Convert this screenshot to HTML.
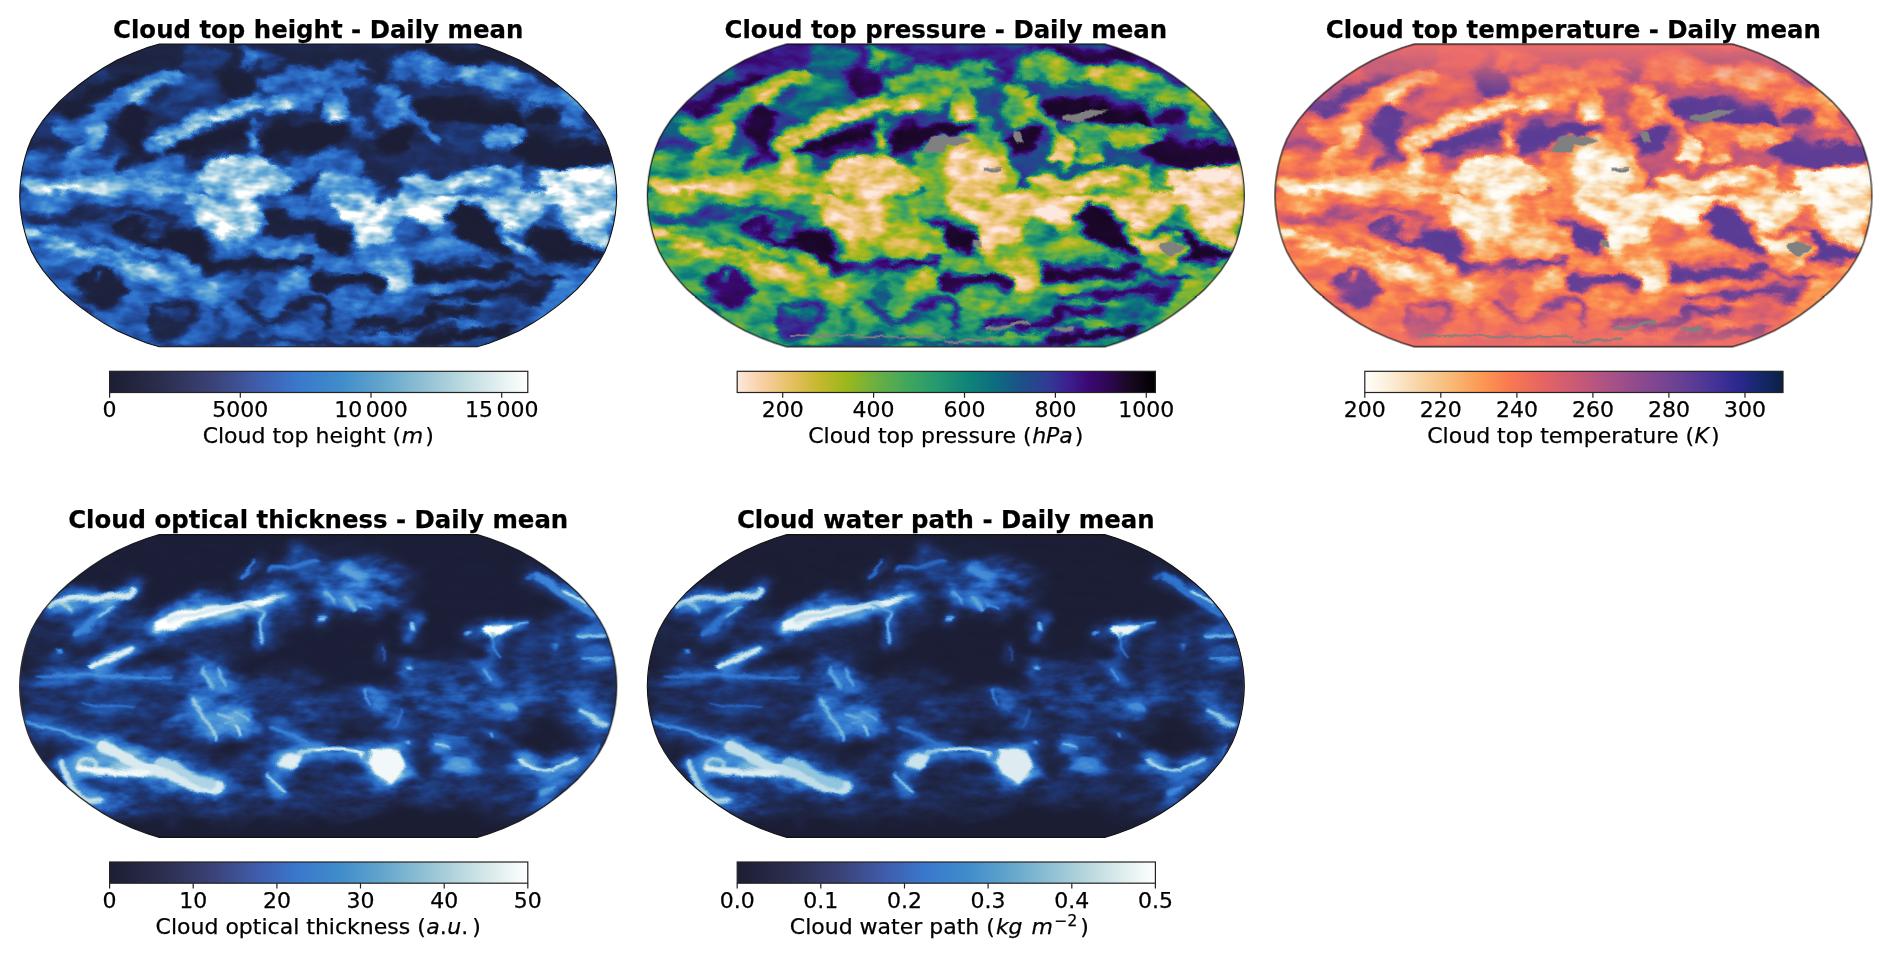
<!DOCTYPE html><html><head><meta charset="utf-8"><title>Cloud properties - Daily mean</title><style>html,body{margin:0;padding:0;background:#fff}svg{display:block}text{font-family:"DejaVu Sans","Liberation Sans",sans-serif;fill:#000;stroke:#000;stroke-width:.25px}</style></head><body>
<svg width="1892" height="958" viewBox="0 0 1892 958">
<defs>
<clipPath id="rob"><path d="M158.9 -151.4 L170.8 -147.8 L185.5 -142.2 L201.0 -135.3 L214.5 -127.7 L226.8 -119.7 L238.4 -111.2 L249.2 -102.5 L259.1 -93.5 L267.5 -84.3 L275.1 -75.1 L281.4 -65.7 L286.6 -56.3 L290.4 -46.9 L293.2 -37.5 L295.5 -28.2 L297.1 -18.8 L298.1 -9.4 L298.5 -0.0 L298.1 9.4 L297.1 18.8 L295.5 28.2 L293.2 37.5 L290.4 46.9 L286.6 56.3 L281.4 65.7 L275.1 75.1 L267.5 84.3 L259.1 93.5 L249.2 102.5 L238.4 111.2 L226.8 119.7 L214.5 127.7 L201.0 135.3 L185.5 142.2 L170.8 147.8 L158.9 151.4 L-158.9 151.4 L-170.8 147.8 L-185.5 142.2 L-201.0 135.3 L-214.5 127.7 L-226.8 119.7 L-238.4 111.2 L-249.2 102.5 L-259.1 93.5 L-267.5 84.3 L-275.1 75.1 L-281.4 65.7 L-286.6 56.3 L-290.4 46.9 L-293.2 37.5 L-295.5 28.2 L-297.1 18.8 L-298.1 9.4 L-298.5 0.0 L-298.1 -9.4 L-297.1 -18.8 L-295.5 -28.2 L-293.2 -37.5 L-290.4 -46.9 L-286.6 -56.3 L-281.4 -65.7 L-275.1 -75.1 L-267.5 -84.3 L-259.1 -93.5 L-249.2 -102.5 L-238.4 -111.2 L-226.8 -119.7 L-214.5 -127.7 L-201.0 -135.3 L-185.5 -142.2 L-170.8 -147.8 L-158.9 -151.4Z"/></clipPath>
<linearGradient id="gIce"><stop offset="0.000" stop-color="#1c1e33"/><stop offset="0.120" stop-color="#2b2d4d"/><stop offset="0.250" stop-color="#3b4378"/><stop offset="0.360" stop-color="#3f5eae"/><stop offset="0.450" stop-color="#3a78cc"/><stop offset="0.550" stop-color="#3f8ccb"/><stop offset="0.650" stop-color="#62a5cc"/><stop offset="0.750" stop-color="#8fc0d4"/><stop offset="0.850" stop-color="#bedbe0"/><stop offset="0.930" stop-color="#e2efef"/><stop offset="1.000" stop-color="#ffffff"/></linearGradient>
<linearGradient id="gPres"><stop offset="0.000" stop-color="#fde8dc"/><stop offset="0.060" stop-color="#f8cfa4"/><stop offset="0.130" stop-color="#e6bf60"/><stop offset="0.200" stop-color="#c2b82c"/><stop offset="0.260" stop-color="#9cb81c"/><stop offset="0.330" stop-color="#6cb040"/><stop offset="0.400" stop-color="#44a85c"/><stop offset="0.480" stop-color="#249870"/><stop offset="0.550" stop-color="#108478"/><stop offset="0.620" stop-color="#0c6c80"/><stop offset="0.680" stop-color="#1c5088"/><stop offset="0.740" stop-color="#303c94"/><stop offset="0.790" stop-color="#3c2090"/><stop offset="0.840" stop-color="#3c0874"/><stop offset="0.890" stop-color="#2c0850"/><stop offset="0.940" stop-color="#180820"/><stop offset="1.000" stop-color="#000000"/></linearGradient>
<linearGradient id="gTemp"><stop offset="0.000" stop-color="#fffefb"/><stop offset="0.060" stop-color="#fbeed8"/><stop offset="0.130" stop-color="#f8d4a4"/><stop offset="0.210" stop-color="#f8b874"/><stop offset="0.280" stop-color="#fc9852"/><stop offset="0.350" stop-color="#f87850"/><stop offset="0.430" stop-color="#e46464"/><stop offset="0.520" stop-color="#c45878"/><stop offset="0.600" stop-color="#a45088"/><stop offset="0.680" stop-color="#844890"/><stop offset="0.760" stop-color="#664094"/><stop offset="0.830" stop-color="#483498"/><stop offset="0.890" stop-color="#2c2890"/><stop offset="0.950" stop-color="#142868"/><stop offset="1.000" stop-color="#0c2044"/></linearGradient>
<filter id="blurA" x="-340" y="-190" width="680" height="380" filterUnits="userSpaceOnUse" color-interpolation-filters="sRGB"><feGaussianBlur stdDeviation="2.6" result="b"/><feTurbulence type="fractalNoise" baseFrequency="0.018 0.03" numOctaves="4" seed="7" result="n"/><feDisplacementMap in="b" in2="n" scale="30" xChannelSelector="R" yChannelSelector="G" result="d0"/><feTurbulence type="fractalNoise" baseFrequency="0.07 0.11" numOctaves="2" seed="21" result="m"/><feDisplacementMap in="d0" in2="m" scale="7" xChannelSelector="G" yChannelSelector="R" result="d"/><feTurbulence type="fractalNoise" baseFrequency="0.035 0.07" numOctaves="3" seed="3" result="n2"/><feColorMatrix in="n2" type="matrix" values="1 0 0 0 0  1 0 0 0 0  1 0 0 0 0  0 0 0 0 1" result="n3"/><feComposite in="d" in2="n3" operator="arithmetic" k1="1.1" k2="0.45" k3="0" k4="0"/></filter><filter id="blurBh" x="-340" y="-190" width="680" height="380" filterUnits="userSpaceOnUse" color-interpolation-filters="sRGB"><feGaussianBlur stdDeviation="7" result="b"/><feTurbulence type="fractalNoise" baseFrequency="0.02 0.035" numOctaves="4" seed="11" result="n"/><feDisplacementMap in="b" in2="n" scale="30" xChannelSelector="R" yChannelSelector="G" result="d"/><feTurbulence type="fractalNoise" baseFrequency="0.04 0.09" numOctaves="3" seed="9" result="n2"/><feColorMatrix in="n2" type="matrix" values="1 0 0 0 0  1 0 0 0 0  1 0 0 0 0  0 0 0 0 1" result="n3"/><feComposite in="d" in2="n3" operator="arithmetic" k1="1.5" k2="0.05" k3="0" k4="0"/></filter><filter id="blurBg" x="-340" y="-190" width="680" height="380" filterUnits="userSpaceOnUse" color-interpolation-filters="sRGB"><feMorphology operator="dilate" radius="2.5"/><feGaussianBlur stdDeviation="6" result="b"/><feTurbulence type="fractalNoise" baseFrequency="0.02 0.035" numOctaves="4" seed="11" result="n"/><feDisplacementMap in="b" in2="n" scale="24" xChannelSelector="R" yChannelSelector="G" result="d"/><feComponentTransfer><feFuncA type="linear" slope="0.65"/></feComponentTransfer></filter><filter id="blurBs" x="-340" y="-190" width="680" height="380" filterUnits="userSpaceOnUse" color-interpolation-filters="sRGB"><feGaussianBlur stdDeviation="1.3" result="b"/><feTurbulence type="fractalNoise" baseFrequency="0.03 0.05" numOctaves="3" seed="5" result="n"/><feDisplacementMap in="b" in2="n" scale="10" xChannelSelector="R" yChannelSelector="G"/></filter><filter id="cm4" x="0" y="0" width="1" height="1" filterUnits="objectBoundingBox" color-interpolation-filters="sRGB"><feComponentTransfer><feFuncR type="table" tableValues="0.106 0.112 0.118 0.122 0.122 0.122 0.123 0.124 0.125 0.135 0.145 0.155 0.167 0.179 0.191 0.214 0.243 0.273 0.308 0.352 0.396 0.442 0.493 0.545 0.596 0.650 0.704 0.758 0.808 0.857 0.905 0.953 1.000"/><feFuncG type="table" tableValues="0.114 0.129 0.144 0.160 0.177 0.194 0.220 0.247 0.275 0.306 0.338 0.370 0.401 0.432 0.462 0.494 0.527 0.561 0.594 0.627 0.660 0.692 0.723 0.754 0.784 0.812 0.841 0.869 0.895 0.921 0.947 0.974 1.000"/><feFuncB type="table" tableValues="0.200 0.232 0.264 0.304 0.353 0.402 0.455 0.508 0.561 0.611 0.661 0.712 0.745 0.775 0.804 0.820 0.827 0.835 0.840 0.843 0.845 0.849 0.859 0.869 0.878 0.891 0.903 0.915 0.930 0.945 0.961 0.981 1.000"/></feComponentTransfer></filter><filter id="cm5" x="0" y="0" width="1" height="1" filterUnits="objectBoundingBox" color-interpolation-filters="sRGB"><feComponentTransfer><feFuncR type="table" tableValues="0.106 0.109 0.114 0.118 0.122 0.122 0.122 0.122 0.123 0.124 0.125 0.134 0.144 0.153 0.164 0.175 0.187 0.205 0.234 0.264 0.295 0.340 0.385 0.431 0.485 0.539 0.593 0.650 0.708 0.766 0.819 0.872 0.924"/><feFuncG type="table" tableValues="0.114 0.122 0.133 0.144 0.157 0.170 0.185 0.201 0.225 0.249 0.274 0.303 0.333 0.363 0.393 0.423 0.453 0.484 0.517 0.550 0.584 0.618 0.652 0.686 0.718 0.750 0.783 0.813 0.843 0.873 0.901 0.929 0.958"/><feFuncB type="table" tableValues="0.200 0.218 0.240 0.264 0.293 0.333 0.374 0.417 0.464 0.511 0.560 0.606 0.653 0.701 0.738 0.766 0.795 0.818 0.825 0.833 0.839 0.842 0.845 0.847 0.857 0.868 0.878 0.891 0.904 0.917 0.933 0.950 0.969"/></feComponentTransfer></filter><filter id="cm1" x="0" y="0" width="1" height="1" filterUnits="objectBoundingBox" color-interpolation-filters="sRGB"><feComponentTransfer><feFuncR type="table" tableValues="0.106 0.108 0.112 0.116 0.120 0.122 0.122 0.122 0.122 0.124 0.125 0.130 0.139 0.149 0.159 0.172 0.184 0.199 0.231 0.263 0.298 0.348 0.398 0.451 0.510 0.571 0.633 0.697 0.762 0.822 0.882 0.941 1.000"/><feFuncG type="table" tableValues="0.114 0.120 0.129 0.139 0.150 0.163 0.176 0.190 0.211 0.235 0.260 0.288 0.319 0.350 0.382 0.414 0.446 0.478 0.514 0.550 0.586 0.623 0.661 0.698 0.733 0.769 0.804 0.837 0.871 0.903 0.935 0.967 1.000"/><feFuncB type="table" tableValues="0.200 0.214 0.232 0.253 0.277 0.311 0.350 0.392 0.436 0.484 0.533 0.582 0.631 0.680 0.727 0.757 0.788 0.817 0.824 0.832 0.840 0.842 0.845 0.851 0.862 0.874 0.887 0.901 0.916 0.934 0.953 0.976 1.000"/></feComponentTransfer></filter><filter id="cm2" x="0" y="0" width="1" height="1" filterUnits="objectBoundingBox" color-interpolation-filters="sRGB"><feComponentTransfer><feFuncR type="table" tableValues="0.063 0.128 0.189 0.235 0.235 0.206 0.167 0.120 0.078 0.049 0.057 0.082 0.127 0.185 0.249 0.332 0.424 0.499 0.575 0.647 0.711 0.771 0.821 0.864 0.902 0.921 0.939 0.954 0.970 0.977 0.982 0.987 0.992"/><feFuncG type="table" tableValues="0.021 0.031 0.031 0.041 0.117 0.193 0.256 0.304 0.369 0.434 0.486 0.537 0.582 0.618 0.650 0.672 0.690 0.703 0.715 0.722 0.722 0.724 0.733 0.742 0.749 0.766 0.782 0.796 0.810 0.833 0.859 0.884 0.910"/><feFuncB type="table" tableValues="0.084 0.207 0.351 0.466 0.555 0.574 0.568 0.539 0.518 0.499 0.481 0.463 0.445 0.412 0.372 0.315 0.251 0.194 0.138 0.125 0.152 0.187 0.260 0.322 0.376 0.448 0.515 0.574 0.634 0.691 0.748 0.806 0.863"/></feComponentTransfer></filter><filter id="cm3" x="0" y="0" width="1" height="1" filterUnits="objectBoundingBox" color-interpolation-filters="sRGB"><feComponentTransfer><feFuncR type="table" tableValues="0.333 0.377 0.421 0.506 0.592 0.666 0.739 0.792 0.831 0.871 0.903 0.924 0.946 0.966 0.975 0.980 0.984 0.988 0.983 0.978 0.973 0.973 0.973 0.973 0.975 0.979 0.982 0.985 0.989 0.993 0.995 0.998 1.000"/><feFuncG type="table" tableValues="0.224 0.242 0.257 0.279 0.301 0.319 0.338 0.354 0.369 0.383 0.401 0.422 0.444 0.464 0.493 0.527 0.560 0.599 0.639 0.678 0.722 0.756 0.790 0.822 0.853 0.885 0.913 0.935 0.952 0.967 0.976 0.986 0.996"/><feFuncB type="table" tableValues="0.589 0.584 0.578 0.566 0.546 0.522 0.485 0.456 0.431 0.407 0.384 0.362 0.341 0.320 0.315 0.317 0.319 0.325 0.367 0.408 0.455 0.514 0.573 0.627 0.687 0.751 0.807 0.851 0.887 0.920 0.941 0.963 0.984"/></feComponentTransfer></filter><g id="rawA" transform="translate(-318.2 -195.4)"><g transform="translate(3 36) scale(0.16667)"><path d="M600 40 L1892 40 L1892 250 L600 250Z" fill="#1f1f1f"/><ellipse cx="1150" cy="330" rx="220" ry="110" fill="#4c4c4c" transform="rotate(-10 1150 330)"/><ellipse cx="1200" cy="160" rx="130" ry="70" fill="#474747"/><ellipse cx="1450" cy="150" rx="70" ry="45" fill="#808080"/><ellipse cx="1720" cy="250" rx="220" ry="60" fill="#737373" transform="rotate(-8 1720 250)"/><ellipse cx="1400" cy="300" rx="90" ry="90" fill="#0d0d0d"/><ellipse cx="1600" cy="130" rx="120" ry="40" fill="#666666"/><path d="M430 520 Q650 430 800 340 T1020 270" fill="none" stroke="#808080" stroke-width="120" stroke-linecap="round" stroke-linejoin="round"/><path d="M780 360 Q880 300 960 300" fill="none" stroke="#adadad" stroke-width="60" stroke-linecap="round" stroke-linejoin="round"/><path d="M520 330 Q650 300 780 250" fill="none" stroke="#0a0a0a" stroke-width="70" stroke-linecap="round" stroke-linejoin="round"/><path d="M360 420 Q480 400 600 350" fill="none" stroke="#0d0d0d" stroke-width="60" stroke-linecap="round" stroke-linejoin="round"/><ellipse cx="460" cy="540" rx="160" ry="100" fill="#808080" transform="rotate(-15 460 540)"/><ellipse cx="560" cy="560" rx="80" ry="50" fill="#a6a6a6" transform="rotate(-20 560 560)"/><path d="M380 720 Q520 680 620 600" fill="none" stroke="#999999" stroke-width="70" stroke-linecap="round" stroke-linejoin="round"/><path d="M160 640 Q260 600 340 640" fill="none" stroke="#262626" stroke-width="60" stroke-linecap="round" stroke-linejoin="round"/><path d="M150 720 Q260 690 360 700" fill="none" stroke="#595959" stroke-width="40" stroke-linecap="round" stroke-linejoin="round"/><path d="M800 450 Q760 560 820 680" fill="none" stroke="#080808" stroke-width="150" stroke-linecap="round" stroke-linejoin="round"/><path d="M870 760 Q900 650 980 590 Q1150 480 1400 450 Q1650 420 1892 320" fill="none" stroke="#8c8c8c" stroke-width="130" stroke-linecap="round" stroke-linejoin="round"/><path d="M960 610 Q1100 500 1400 460 Q1550 440 1700 400" fill="none" stroke="#cccccc" stroke-width="70" stroke-linecap="round" stroke-linejoin="round"/><path d="M1520 560 L1530 660" fill="none" stroke="#999999" stroke-width="60" stroke-linecap="round" stroke-linejoin="round"/><path d="M1020 740 Q1150 640 1420 590" fill="none" stroke="#050505" stroke-width="110" stroke-linecap="round" stroke-linejoin="round"/><path d="M1620 620 Q1750 560 1892 580" fill="none" stroke="#050505" stroke-width="130" stroke-linecap="round" stroke-linejoin="round"/><path d="M120 830 L1892 830" fill="none" stroke="#737373" stroke-width="200" stroke-linecap="round" stroke-linejoin="round"/><path d="M150 880 L700 900" fill="none" stroke="#b2b2b2" stroke-width="130" stroke-linecap="round" stroke-linejoin="round"/><ellipse cx="380" cy="900" rx="110" ry="35" fill="#ffffff"/><ellipse cx="800" cy="880" rx="110" ry="40" fill="#f2f2f2"/><path d="M700 900 L1150 900" fill="none" stroke="#a6a6a6" stroke-width="100" stroke-linecap="round" stroke-linejoin="round"/><path d="M680 800 Q800 740 900 720" fill="none" stroke="#1a1a1a" stroke-width="60" stroke-linecap="round" stroke-linejoin="round"/><ellipse cx="1450" cy="850" rx="260" ry="150" fill="#d1d1d1"/><ellipse cx="1150" cy="760" rx="70" ry="50" fill="#333333"/><path d="M1760 760 L1892 720" fill="none" stroke="#8c8c8c" stroke-width="90" stroke-linecap="round" stroke-linejoin="round"/><path d="M1700 900 L1892 860" fill="none" stroke="#1a1a1a" stroke-width="60" stroke-linecap="round" stroke-linejoin="round"/></g><g transform="translate(318 36) scale(0.16667)"><path d="M0 40 L1500 40 L1500 250 L0 250Z" fill="#1f1f1f"/><path d="M550 100 L1300 110" fill="none" stroke="#0a0a0a" stroke-width="90" stroke-linecap="round" stroke-linejoin="round"/><ellipse cx="150" cy="240" rx="180" ry="90" fill="#737373"/><path d="M250 230 Q350 260 470 280" fill="none" stroke="#1a1a1a" stroke-width="50" stroke-linecap="round" stroke-linejoin="round"/><path d="M480 170 Q800 200 1100 270 T1560 470" fill="none" stroke="#808080" stroke-width="150" stroke-linecap="round" stroke-linejoin="round"/><path d="M650 200 Q900 220 1200 290" fill="none" stroke="#9e9e9e" stroke-width="70" stroke-linecap="round" stroke-linejoin="round"/><path d="M700 230 Q800 260 860 320" fill="none" stroke="#262626" stroke-width="30" stroke-linecap="round" stroke-linejoin="round"/><path d="M1420 300 Q1520 400 1600 520" fill="none" stroke="#8c8c8c" stroke-width="70" stroke-linecap="round" stroke-linejoin="round"/><ellipse cx="120" cy="450" rx="100" ry="120" fill="#999999" transform="rotate(20 120 450)"/><ellipse cx="110" cy="500" rx="50" ry="50" fill="#bfbfbf"/><path d="M420 320 L430 500" fill="none" stroke="#808080" stroke-width="130" stroke-linecap="round" stroke-linejoin="round"/><ellipse cx="520" cy="390" rx="50" ry="35" fill="#adadad" transform="rotate(-30 520 390)"/><path d="M520 440 Q600 520 680 620" fill="none" stroke="#999999" stroke-width="70" stroke-linecap="round" stroke-linejoin="round"/><ellipse cx="60" cy="620" rx="120" ry="80" fill="#050505"/><ellipse cx="440" cy="610" rx="110" ry="100" fill="#050505"/><path d="M650 440 Q900 430 1200 470" fill="none" stroke="#050505" stroke-width="130" stroke-linecap="round" stroke-linejoin="round"/><ellipse cx="1370" cy="450" rx="90" ry="60" fill="#0d0d0d"/><path d="M1250 700 L1720 700" fill="none" stroke="#080808" stroke-width="170" stroke-linecap="round" stroke-linejoin="round"/><ellipse cx="1120" cy="590" rx="130" ry="80" fill="#adadad" transform="rotate(-15 1120 590)"/><ellipse cx="870" cy="600" rx="130" ry="80" fill="#404040"/><ellipse cx="250" cy="570" rx="50" ry="60" fill="#808080"/><ellipse cx="120" cy="780" rx="140" ry="80" fill="#6b6b6b"/><path d="M1520 600 L1740 620" fill="none" stroke="#666666" stroke-width="50" stroke-linecap="round" stroke-linejoin="round"/><path d="M300 760 L460 900" fill="none" stroke="#262626" stroke-width="150" stroke-linecap="round" stroke-linejoin="round"/><path d="M650 720 L900 740" fill="none" stroke="#333333" stroke-width="90" stroke-linecap="round" stroke-linejoin="round"/><path d="M0 910 L300 910" fill="none" stroke="#a6a6a6" stroke-width="110" stroke-linecap="round" stroke-linejoin="round"/><path d="M520 900 Q900 840 1300 900" fill="none" stroke="#b2b2b2" stroke-width="130" stroke-linecap="round" stroke-linejoin="round"/><ellipse cx="900" cy="880" rx="120" ry="50" fill="#e6e6e6"/><path d="M1420 880 L1800 860" fill="none" stroke="#f2f2f2" stroke-width="170" stroke-linecap="round" stroke-linejoin="round"/><path d="M1250 860 L1380 900" fill="none" stroke="#4c4c4c" stroke-width="60" stroke-linecap="round" stroke-linejoin="round"/></g><g transform="translate(3 195) scale(0.16667)"><path d="M100 0 L1892 0 L1892 955 L100 955Z" fill="#6b6b6b"/><path d="M100 50 L900 50" fill="none" stroke="#808080" stroke-width="110" stroke-linecap="round" stroke-linejoin="round"/><path d="M180 140 Q600 100 1000 150" fill="none" stroke="#2e2e2e" stroke-width="60" stroke-linecap="round" stroke-linejoin="round"/><path d="M1090 0 L1500 0 L1570 150 L1500 270 L1350 310 L1250 250 L1150 130Z" fill="#d1d1d1"/><ellipse cx="1350" cy="230" rx="60" ry="35" fill="#ffffff"/><path d="M1560 0 L1892 0 L1892 100 L1600 80Z" fill="#808080"/><path d="M1620 170 L1892 180" fill="none" stroke="#141414" stroke-width="120" stroke-linecap="round" stroke-linejoin="round"/><path d="M1000 170 L1150 170 L1230 280 L1250 420 L1180 440 L1050 350 L950 250Z" fill="#050505"/><path d="M700 210 L1000 270" fill="none" stroke="#0d0d0d" stroke-width="70" stroke-linecap="round" stroke-linejoin="round"/><path d="M160 265 Q575 340 1000 520 T1260 630" fill="none" stroke="#9e9e9e" stroke-width="110" stroke-linecap="round" stroke-linejoin="round"/><path d="M200 270 Q550 330 900 460" fill="none" stroke="#c7c7c7" stroke-width="50" stroke-linecap="round" stroke-linejoin="round"/><path d="M520 270 L700 340" fill="none" stroke="#333333" stroke-width="30" stroke-linecap="round" stroke-linejoin="round"/><path d="M850 290 Q1000 380 1150 500 T1260 570" fill="none" stroke="#999999" stroke-width="55" stroke-linecap="round" stroke-linejoin="round"/><ellipse cx="600" cy="540" rx="150" ry="100" fill="#141414" transform="rotate(10 600 540)"/><ellipse cx="590" cy="500" rx="20" ry="15" fill="#999999"/><ellipse cx="1000" cy="750" rx="160" ry="100" fill="#1f1f1f"/><path d="M900 720 Q1040 680 1100 760" fill="none" stroke="#666666" stroke-width="25" stroke-linecap="round" stroke-linejoin="round"/><path d="M1360 310 Q1600 350 1892 330" fill="none" stroke="#999999" stroke-width="70" stroke-linecap="round" stroke-linejoin="round"/><path d="M1200 440 Q1500 390 1892 410" fill="none" stroke="#0d0d0d" stroke-width="60" stroke-linecap="round" stroke-linejoin="round"/><ellipse cx="1750" cy="550" rx="110" ry="70" fill="#9e9e9e" transform="rotate(-20 1750 550)"/><ellipse cx="1490" cy="600" rx="70" ry="70" fill="#383838"/><path d="M1390 640 Q1480 750 1680 750" fill="none" stroke="#1a1a1a" stroke-width="40" stroke-linecap="round" stroke-linejoin="round"/><path d="M1700 700 L1892 640" fill="none" stroke="#1f1f1f" stroke-width="50" stroke-linecap="round" stroke-linejoin="round"/><path d="M1000 880 L1892 880" fill="none" stroke="#1a1a1a" stroke-width="25" stroke-linecap="round" stroke-linejoin="round"/><path d="M450 650 L560 760" fill="none" stroke="#262626" stroke-width="60" stroke-linecap="round" stroke-linejoin="round"/><path d="M1250 700 L1350 860" fill="none" stroke="#4c4c4c" stroke-width="60" stroke-linecap="round" stroke-linejoin="round"/></g><g transform="translate(318 195) scale(0.16667)"><path d="M0 0 L1892 0 L1892 955 L0 955Z" fill="#616161"/><path d="M0 0 L1800 0 L1730 330 L1650 310 L1560 250 L1500 170 L1450 100 L1350 80 L1300 120 L1280 210 L1150 200 L1050 130 L1000 80 L850 60 L830 100 L800 180 L700 230 L600 170 L520 130 L450 200 L480 300 L300 330 L200 250 L130 130 L80 0Z" fill="#d1d1d1"/><ellipse cx="1150" cy="140" rx="60" ry="40" fill="#ffffff"/><ellipse cx="1570" cy="140" rx="40" ry="40" fill="#ffffff"/><ellipse cx="700" cy="110" rx="80" ry="40" fill="#fafafa"/><ellipse cx="300" cy="100" rx="120" ry="60" fill="#f2f2f2"/><ellipse cx="400" cy="30" rx="50" ry="40" fill="#4c4c4c"/><path d="M0 130 L100 180 L200 280 L270 350 L0 320Z" fill="#050505"/><path d="M850 80 L1000 100 L1100 250 L1150 400 L1000 390 L850 260 L790 180Z" fill="#050505"/><path d="M1300 200 L1450 170 L1550 280 L1700 340 L1650 410 L1400 390 L1260 330Z" fill="#050505"/><path d="M1160 260 Q1200 360 1290 400" fill="none" stroke="#b2b2b2" stroke-width="60" stroke-linecap="round" stroke-linejoin="round"/><path d="M0 390 Q300 410 600 340 T1000 400" fill="none" stroke="#808080" stroke-width="100" stroke-linecap="round" stroke-linejoin="round"/><ellipse cx="430" cy="470" rx="180" ry="80" fill="#adadad"/><ellipse cx="440" cy="470" rx="90" ry="40" fill="#cccccc"/><path d="M0 520 Q200 470 340 530" fill="none" stroke="#0a0a0a" stroke-width="90" stroke-linecap="round" stroke-linejoin="round"/><path d="M600 460 Q900 430 1100 470 T1500 545" fill="none" stroke="#080808" stroke-width="70" stroke-linecap="round" stroke-linejoin="round"/><path d="M450 610 Q700 530 920 520" fill="none" stroke="#808080" stroke-width="70" stroke-linecap="round" stroke-linejoin="round"/><path d="M1150 460 Q1300 505 1500 480 T1660 420" fill="none" stroke="#737373" stroke-width="50" stroke-linecap="round" stroke-linejoin="round"/><path d="M700 630 Q1000 575 1300 600 L1500 600" fill="none" stroke="#0d0d0d" stroke-width="60" stroke-linecap="round" stroke-linejoin="round"/><ellipse cx="250" cy="680" rx="170" ry="110" fill="#737373"/><ellipse cx="250" cy="640" rx="50" ry="35" fill="#999999"/><path d="M200 730 L400 700" fill="none" stroke="#8c8c8c" stroke-width="50" stroke-linecap="round" stroke-linejoin="round"/><path d="M20 620 Q100 700 60 780" fill="none" stroke="#1a1a1a" stroke-width="50" stroke-linecap="round" stroke-linejoin="round"/><path d="M600 725 Q750 640 860 630" fill="none" stroke="#737373" stroke-width="40" stroke-linecap="round" stroke-linejoin="round"/><path d="M250 800 Q500 735 660 760" fill="none" stroke="#080808" stroke-width="50" stroke-linecap="round" stroke-linejoin="round"/><path d="M650 720 L1000 710" fill="none" stroke="#0d0d0d" stroke-width="70" stroke-linecap="round" stroke-linejoin="round"/><ellipse cx="450" cy="830" rx="150" ry="50" fill="#808080"/><ellipse cx="880" cy="790" rx="130" ry="45" fill="#808080"/><path d="M1320 700 Q1500 600 1660 450" fill="none" stroke="#808080" stroke-width="110" stroke-linecap="round" stroke-linejoin="round"/><path d="M650 850 L1150 830" fill="none" stroke="#080808" stroke-width="80" stroke-linecap="round" stroke-linejoin="round"/><path d="M1000 720 L1300 680" fill="none" stroke="#4c4c4c" stroke-width="80" stroke-linecap="round" stroke-linejoin="round"/><path d="M0 880 L700 890" fill="none" stroke="#1f1f1f" stroke-width="40" stroke-linecap="round" stroke-linejoin="round"/></g></g><g id="fieldA"><rect x="-340" y="-190" width="680" height="380" fill="#333"/><g filter="url(#blurA)"><rect x="-340" y="-190" width="680" height="380" fill="#333"/><use href="#rawA"/></g></g><g id="fieldC"><rect x="-340" y="-190" width="680" height="380" fill="#333"/><g filter="url(#blurA)"><rect x="-340" y="-190" width="680" height="380" fill="#333"/><use href="#rawA"/><g transform="translate(-318.2 -195.4)"><g transform="translate(3 36) scale(0.16667)"><ellipse cx="940" cy="740" rx="45" ry="120" fill="#b8b8b8" transform="rotate(-20 940 740)"/><path d="M1740 700 L1800 620 L1892 590 L1892 955 L1700 955Z" fill="#8c8c8c"/></g><g transform="translate(318 36) scale(0.16667)"><path d="M0 640 L150 615 L300 600 L390 680 L420 800 L380 955 L0 955Z" fill="#999999"/><path d="M0 720 L250 700 L330 800 L300 955 L0 955Z" fill="#d1d1d1"/><path d="M620 660 L700 620 L780 700 L700 765 L640 740Z" fill="#cccccc"/><ellipse cx="860" cy="710" rx="80" ry="45" fill="#b2b2b2"/><ellipse cx="870" cy="590" rx="150" ry="60" fill="#737373"/><ellipse cx="1150" cy="590" rx="170" ry="70" fill="#9e9e9e"/></g><g transform="translate(3 195) scale(0.16667)"><path d="M1500 0 L1650 30 L1892 230 L1892 340 L1500 390 L1300 420 L1230 370 L1300 300 L1500 270Z" fill="#999999"/><ellipse cx="1380" cy="150" rx="150" ry="120" fill="#cccccc"/></g><g transform="translate(318 195) scale(0.16667)"><path d="M1150 280 L1280 250 L1400 200 L1470 330 L1420 400 L1330 470 L1200 440 L1150 380Z" fill="#b8b8b8"/><path d="M1340 230 L1440 240 L1440 290 L1350 290Z" fill="#4c4c4c"/><path d="M120 0 L500 0 L480 150 L450 280 L300 350 L200 300 L140 200Z" fill="#cccccc"/><path d="M0 0 L130 0 L140 120 L60 100 Z" fill="#bfbfbf"/></g></g></g></g><filter id="blurG" x="-300" y="-155" width="600" height="310" filterUnits="userSpaceOnUse"><feTurbulence type="fractalNoise" baseFrequency="0.05" numOctaves="3" seed="2" result="n"/><feDisplacementMap in="SourceGraphic" in2="n" scale="8" xChannelSelector="R" yChannelSelector="G"/></filter><linearGradient id="polT" x1="0" y1="0" x2="0" y2="1"><stop offset="0" stop-color="#f0706a" stop-opacity="0.95"/><stop offset="0.07" stop-color="#f0706a" stop-opacity="0.6"/><stop offset="0.16" stop-color="#f0706a" stop-opacity="0"/><stop offset="0.86" stop-color="#f0706a" stop-opacity="0"/><stop offset="0.95" stop-color="#f0706a" stop-opacity="0.5"/><stop offset="1" stop-color="#f0706a" stop-opacity="0.9"/></linearGradient><g id="grays" filter="url(#blurG)"><g transform="translate(-318.2 -195.4)"><g transform="translate(3 36) scale(0.16667)"><path d="M1740 690 L1800 620 L1892 590 L1892 690 L1800 700Z" fill="#808080"/></g><g transform="translate(318 36) scale(0.16667)"><path d="M0 590 L100 600 L150 640 L60 660 L0 650Z" fill="#808080"/><path d="M395 575 L440 580 L470 640 L420 650 L400 620Z" fill="#808080"/><path d="M700 480 L850 440 L980 450 L900 480 L820 510 L700 510Z" fill="#808080"/><path d="M220 785 L340 780 L330 805 L230 810Z" fill="#808080"/></g><g transform="translate(3 195) scale(0.16667)"><path d="M950 835 L1892 850 L1892 860 L950 845Z" fill="#808080"/></g><g transform="translate(318 195) scale(0.16667)"><path d="M1290 310 L1340 280 L1420 300 L1410 350 L1340 365 L1300 340Z" fill="#808080"/><path d="M150 260 L200 265 L205 310 L160 300Z" fill="#808080"/><path d="M240 790 L500 760 L520 775 L250 810Z" fill="#808080"/><path d="M650 790 L780 800 L770 830 L660 815Z" fill="#808080"/><path d="M0 870 L300 860 L300 875 L0 885Z" fill="#808080"/></g></g></g><g id="streakB" transform="translate(-318.2 -686)"><g transform="translate(3 527) scale(0.16667)"><path d="M900 570 L1100 490 L1500 440 L1720 420 L1500 482 L1150 560 L920 640Z" fill="#ffffff"/><path d="M1000 560 Q1200 500 1500 455" fill="none" stroke="#e6e6e6" stroke-width="30" stroke-linecap="round" stroke-linejoin="round"/><path d="M1555 520 Q1535 600 1560 690" fill="none" stroke="#cccccc" stroke-width="18" stroke-linecap="round" stroke-linejoin="round"/><path d="M1460 470 L1560 520" fill="none" stroke="#b2b2b2" stroke-width="18" stroke-linecap="round" stroke-linejoin="round"/><path d="M270 470 Q400 430 600 420 T780 370" fill="none" stroke="#e6e6e6" stroke-width="32" stroke-linecap="round" stroke-linejoin="round"/><path d="M270 470 Q360 450 420 510" fill="none" stroke="#cccccc" stroke-width="20" stroke-linecap="round" stroke-linejoin="round"/><path d="M430 640 Q550 560 650 470" fill="none" stroke="#808080" stroke-width="35" stroke-linecap="round" stroke-linejoin="round"/><path d="M590 530 L660 480" fill="none" stroke="#cccccc" stroke-width="16" stroke-linecap="round" stroke-linejoin="round"/><path d="M520 840 Q650 780 780 730" fill="none" stroke="#f2f2f2" stroke-width="30" stroke-linecap="round" stroke-linejoin="round"/><ellipse cx="335" cy="742" rx="18" ry="10" fill="#b2b2b2"/><path d="M200 900 Q600 885 1000 905" fill="none" stroke="#999999" stroke-width="12" stroke-linecap="round" stroke-linejoin="round"/><path d="M1200 860 L1260 950" fill="none" stroke="#b2b2b2" stroke-width="25" stroke-linecap="round" stroke-linejoin="round"/><path d="M1300 850 L1340 950" fill="none" stroke="#b2b2b2" stroke-width="20" stroke-linecap="round" stroke-linejoin="round"/><path d="M1430 300 Q1480 260 1500 200" fill="none" stroke="#808080" stroke-width="20" stroke-linecap="round" stroke-linejoin="round"/><path d="M1600 260 L1892 200" fill="none" stroke="#737373" stroke-width="30" stroke-linecap="round" stroke-linejoin="round"/></g><g transform="translate(318 527) scale(0.16667)"><path d="M150 420 L230 500" fill="none" stroke="#b2b2b2" stroke-width="25" stroke-linecap="round" stroke-linejoin="round"/><path d="M40 390 L90 440" fill="none" stroke="#b2b2b2" stroke-width="20" stroke-linecap="round" stroke-linejoin="round"/><path d="M250 480 L330 500" fill="none" stroke="#b2b2b2" stroke-width="15" stroke-linecap="round" stroke-linejoin="round"/><path d="M160 250 L260 300" fill="none" stroke="#999999" stroke-width="40" stroke-linecap="round" stroke-linejoin="round"/><ellipse cx="560" cy="600" rx="20" ry="30" fill="#bfbfbf"/><ellipse cx="20" cy="545" rx="30" ry="12" fill="#cccccc"/><path d="M1000 590 L1180 585 L1100 650 L1040 685 L990 620Z" fill="#ffffff"/><path d="M1180 588 L1250 570" fill="none" stroke="#b2b2b2" stroke-width="20" stroke-linecap="round" stroke-linejoin="round"/><ellipse cx="915" cy="640" rx="30" ry="12" fill="#b2b2b2" transform="rotate(-20 915 640)"/><path d="M1330 300 Q1500 420 1650 520" fill="none" stroke="#808080" stroke-width="45" stroke-linecap="round" stroke-linejoin="round"/><path d="M1480 370 L1610 460" fill="none" stroke="#f2f2f2" stroke-width="18" stroke-linecap="round" stroke-linejoin="round"/><path d="M1560 655 L1720 640" fill="none" stroke="#bfbfbf" stroke-width="25" stroke-linecap="round" stroke-linejoin="round"/><path d="M1600 790 L1750 800" fill="none" stroke="#b2b2b2" stroke-width="16" stroke-linecap="round" stroke-linejoin="round"/><path d="M1050 650 L1080 800" fill="none" stroke="#999999" stroke-width="12" stroke-linecap="round" stroke-linejoin="round"/><path d="M1000 850 L1040 920" fill="none" stroke="#b2b2b2" stroke-width="14" stroke-linecap="round" stroke-linejoin="round"/><ellipse cx="545" cy="850" rx="18" ry="12" fill="#cccccc"/><path d="M385 720 L410 800" fill="none" stroke="#808080" stroke-width="10" stroke-linecap="round" stroke-linejoin="round"/><path d="M1260 300 L1330 280" fill="none" stroke="#808080" stroke-width="14" stroke-linecap="round" stroke-linejoin="round"/><ellipse cx="1420" cy="715" rx="15" ry="10" fill="#999999"/></g><g transform="translate(3 686) scale(0.16667)"><path d="M1130 80 Q1200 170 1260 260 L1270 320" fill="none" stroke="#cccccc" stroke-width="18" stroke-linecap="round" stroke-linejoin="round"/><path d="M1400 250 L1420 320" fill="none" stroke="#e6e6e6" stroke-width="14" stroke-linecap="round" stroke-linejoin="round"/><ellipse cx="1380" cy="190" rx="110" ry="50" fill="#808080" transform="rotate(-10 1380 190)"/><path d="M1300 170 L1380 200" fill="none" stroke="#cccccc" stroke-width="14" stroke-linecap="round" stroke-linejoin="round"/><path d="M1400 160 L1470 210" fill="none" stroke="#cccccc" stroke-width="12" stroke-linecap="round" stroke-linejoin="round"/><path d="M1330 230 L1400 215" fill="none" stroke="#bfbfbf" stroke-width="12" stroke-linecap="round" stroke-linejoin="round"/><path d="M480 100 Q600 100 800 140" fill="none" stroke="#808080" stroke-width="12" stroke-linecap="round" stroke-linejoin="round"/><path d="M140 220 Q280 250 400 280 T560 350" fill="none" stroke="#b2b2b2" stroke-width="13" stroke-linecap="round" stroke-linejoin="round"/><path d="M600 365 Q800 470 1000 540 T1290 610" fill="none" stroke="#e6e6e6" stroke-width="70" stroke-linecap="round" stroke-linejoin="round"/><path d="M950 460 Q1100 520 1250 585" fill="none" stroke="#cccccc" stroke-width="60" stroke-linecap="round" stroke-linejoin="round"/><path d="M450 500 Q650 500 860 525" fill="none" stroke="#f7f7f7" stroke-width="40" stroke-linecap="round" stroke-linejoin="round"/><path d="M440 490 Q470 435 540 440 Q570 460 545 485" fill="none" stroke="#e6e6e6" stroke-width="14" stroke-linecap="round" stroke-linejoin="round"/><path d="M350 460 Q365 570 440 645 T580 690" fill="none" stroke="#d9d9d9" stroke-width="34" stroke-linecap="round" stroke-linejoin="round"/><path d="M1600 540 Q1640 600 1685 645" fill="none" stroke="#cccccc" stroke-width="22" stroke-linecap="round" stroke-linejoin="round"/><path d="M1700 400 L1790 420 L1720 500 L1650 480Z" fill="#ebebeb"/><path d="M1760 405 L1892 385" fill="none" stroke="#cccccc" stroke-width="28" stroke-linecap="round" stroke-linejoin="round"/><path d="M1600 240 Q1750 300 1892 365" fill="none" stroke="#808080" stroke-width="22" stroke-linecap="round" stroke-linejoin="round"/></g><g transform="translate(318 686) scale(0.16667)"><path d="M1570 150 Q1650 200 1740 230" fill="none" stroke="#cccccc" stroke-width="28" stroke-linecap="round" stroke-linejoin="round"/><ellipse cx="1150" cy="130" rx="45" ry="25" fill="#999999"/><path d="M290 30 L310 100" fill="none" stroke="#cccccc" stroke-width="9" stroke-linecap="round" stroke-linejoin="round"/><path d="M490 150 L470 260" fill="none" stroke="#808080" stroke-width="10" stroke-linecap="round" stroke-linejoin="round"/><path d="M350 100 L380 150" fill="none" stroke="#808080" stroke-width="10" stroke-linecap="round" stroke-linejoin="round"/><path d="M-10 392 Q100 372 200 390 T270 420" fill="none" stroke="#f2f2f2" stroke-width="22" stroke-linecap="round" stroke-linejoin="round"/><path d="M320 370 L480 400 L520 480 L480 560 L430 600 L350 530 L300 450Z" fill="#f7f7f7"/><path d="M700 340 L780 366" fill="none" stroke="#e6e6e6" stroke-width="13" stroke-linecap="round" stroke-linejoin="round"/><ellipse cx="540" cy="345" rx="14" ry="9" fill="#cccccc"/><path d="M800 420 L900 440 L930 500 L880 530 L750 490Z" fill="#8c8c8c"/><path d="M1200 440 Q1280 505 1350 510 T1550 440" fill="none" stroke="#e6e6e6" stroke-width="20" stroke-linecap="round" stroke-linejoin="round"/><ellipse cx="1040" cy="292" rx="13" ry="11" fill="#b2b2b2"/><path d="M1350 650 L1420 600" fill="none" stroke="#999999" stroke-width="22" stroke-linecap="round" stroke-linejoin="round"/><path d="M1640 400 L1680 350" fill="none" stroke="#8c8c8c" stroke-width="14" stroke-linecap="round" stroke-linejoin="round"/><path d="M700 290 L900 320" fill="none" stroke="#808080" stroke-width="8" stroke-linecap="round" stroke-linejoin="round"/></g></g><g id="fieldB"><rect x="-340" y="-190" width="680" height="380" fill="#050505"/><g filter="url(#blurBh)"><rect x="-340" y="-190" width="680" height="380" fill="#050505"/><g transform="translate(-318.2 -686)"><g transform="translate(3 527) scale(0.16667)"><ellipse cx="500" cy="650" rx="380" ry="230" fill="#2b2b2b"/><ellipse cx="330" cy="530" rx="120" ry="90" fill="#333333"/><ellipse cx="680" cy="610" rx="120" ry="100" fill="#2e2e2e"/><ellipse cx="1230" cy="600" rx="230" ry="110" fill="#292929"/><ellipse cx="1650" cy="580" rx="140" ry="120" fill="#292929"/><ellipse cx="1800" cy="200" rx="150" ry="90" fill="#474747"/><path d="M120 920 L1892 920" fill="none" stroke="#4c4c4c" stroke-width="90" stroke-linecap="round" stroke-linejoin="round"/><ellipse cx="1200" cy="860" rx="160" ry="110" fill="#4c4c4c"/><ellipse cx="1200" cy="720" rx="260" ry="70" fill="#292929"/><path d="M850 640 Q1150 500 1500 450 T1892 330" fill="none" stroke="#4c4c4c" stroke-width="150" stroke-linecap="round" stroke-linejoin="round"/><ellipse cx="650" cy="420" rx="170" ry="50" fill="#4c4c4c" transform="rotate(-8 650 420)"/></g><g transform="translate(318 527) scale(0.16667)"><ellipse cx="250" cy="350" rx="270" ry="180" fill="#595959"/><ellipse cx="270" cy="300" rx="130" ry="80" fill="#808080"/><ellipse cx="610" cy="330" rx="110" ry="50" fill="#474747"/><ellipse cx="510" cy="590" rx="110" ry="110" fill="#383838"/><path d="M1150 270 L1750 270 L1892 955 L1150 955Z" fill="#333333"/><path d="M500 800 L1250 760 L1250 955 L500 955Z" fill="#3d3d3d"/><ellipse cx="100" cy="150" rx="200" ry="80" fill="#0f0f0f"/></g><g transform="translate(3 686) scale(0.16667)"><path d="M100 0 L1892 0 L1892 800 L1000 840 L700 800 L100 400Z" fill="#2e2e2e"/><ellipse cx="1270" cy="150" rx="280" ry="160" fill="#595959"/><ellipse cx="620" cy="690" rx="180" ry="90" fill="#666666"/><ellipse cx="1480" cy="560" rx="140" ry="130" fill="#404040"/><ellipse cx="1360" cy="390" rx="130" ry="80" fill="#050505" transform="rotate(10 1360 390)"/><ellipse cx="250" cy="330" rx="100" ry="70" fill="#0d0d0d"/><ellipse cx="525" cy="580" rx="90" ry="55" fill="#121212"/><path d="M560 380 Q900 540 1300 620" fill="none" stroke="#666666" stroke-width="150" stroke-linecap="round" stroke-linejoin="round"/><ellipse cx="1800" cy="150" rx="100" ry="70" fill="#4c4c4c"/><path d="M600 790 L1000 815 L1450 815 L1892 775 L1892 1100 L600 1100Z" fill="#000000"/></g><g transform="translate(318 686) scale(0.16667)"><path d="M0 0 L1800 0 L1700 500 L1250 800 L1000 740 L800 720 L300 750 L0 780Z" fill="#333333"/><path d="M300 70 L1750 70" fill="none" stroke="#595959" stroke-width="140" stroke-linecap="round" stroke-linejoin="round"/><ellipse cx="290" cy="230" rx="160" ry="120" fill="#1f1f1f"/><ellipse cx="225" cy="300" rx="75" ry="50" fill="#080808"/><ellipse cx="420" cy="500" rx="160" ry="130" fill="#808080"/><ellipse cx="840" cy="470" rx="110" ry="70" fill="#666666"/><ellipse cx="1330" cy="330" rx="140" ry="120" fill="#030303"/><ellipse cx="620" cy="425" rx="110" ry="45" fill="#141414"/><ellipse cx="1050" cy="390" rx="90" ry="60" fill="#141414"/><path d="M1380 640 Q1500 520 1650 420" fill="none" stroke="#666666" stroke-width="70" stroke-linecap="round" stroke-linejoin="round"/><ellipse cx="1320" cy="710" rx="70" ry="60" fill="#666666"/><path d="M1180 460 Q1330 540 1570 440" fill="none" stroke="#595959" stroke-width="70" stroke-linecap="round" stroke-linejoin="round"/><path d="M0 770 L300 740 L500 730 L800 710 L1000 730 L1150 770 L1260 795 L1100 1100 L0 1100Z" fill="#000000"/></g><g transform="translate(0 0) scale(1.00000)"><ellipse cx="334" cy="656" rx="58" ry="30" fill="#050505"/><ellipse cx="380" cy="640" rx="30" ry="30" fill="#050505"/><ellipse cx="175" cy="570" rx="120" ry="28" fill="#050505"/><ellipse cx="520" cy="580" rx="100" ry="40" fill="#050505"/><ellipse cx="547" cy="742" rx="30" ry="23" fill="#040404"/><ellipse cx="70" cy="640" rx="40" ry="10" fill="#080808"/></g></g></g><g filter="url(#blurBg)" style="mix-blend-mode:screen"><use href="#streakB"/></g><g filter="url(#blurBs)" style="mix-blend-mode:lighten"><use href="#streakB"/></g></g>
</defs>
<g transform="translate(318.2 195.4)"><g clip-path="url(#rob)"><g filter="url(#cm1)"><use href="#fieldA"/></g></g><path d="M158.9 -151.4 L170.8 -147.8 L185.5 -142.2 L201.0 -135.3 L214.5 -127.7 L226.8 -119.7 L238.4 -111.2 L249.2 -102.5 L259.1 -93.5 L267.5 -84.3 L275.1 -75.1 L281.4 -65.7 L286.6 -56.3 L290.4 -46.9 L293.2 -37.5 L295.5 -28.2 L297.1 -18.8 L298.1 -9.4 L298.5 -0.0 L298.1 9.4 L297.1 18.8 L295.5 28.2 L293.2 37.5 L290.4 46.9 L286.6 56.3 L281.4 65.7 L275.1 75.1 L267.5 84.3 L259.1 93.5 L249.2 102.5 L238.4 111.2 L226.8 119.7 L214.5 127.7 L201.0 135.3 L185.5 142.2 L170.8 147.8 L158.9 151.4 L-158.9 151.4 L-170.8 147.8 L-185.5 142.2 L-201.0 135.3 L-214.5 127.7 L-226.8 119.7 L-238.4 111.2 L-249.2 102.5 L-259.1 93.5 L-267.5 84.3 L-275.1 75.1 L-281.4 65.7 L-286.6 56.3 L-290.4 46.9 L-293.2 37.5 L-295.5 28.2 L-297.1 18.8 L-298.1 9.4 L-298.5 0.0 L-298.1 -9.4 L-297.1 -18.8 L-295.5 -28.2 L-293.2 -37.5 L-290.4 -46.9 L-286.6 -56.3 L-281.4 -65.7 L-275.1 -75.1 L-267.5 -84.3 L-259.1 -93.5 L-249.2 -102.5 L-238.4 -111.2 L-226.8 -119.7 L-214.5 -127.7 L-201.0 -135.3 L-185.5 -142.2 L-170.8 -147.8 L-158.9 -151.4Z" fill="none" stroke="#111" stroke-width="1.1"/></g>
<g transform="translate(945.8 195.4)"><g clip-path="url(#rob)"><g filter="url(#cm2)"><use href="#fieldC"/></g><use href="#grays"/></g><path d="M158.9 -151.4 L170.8 -147.8 L185.5 -142.2 L201.0 -135.3 L214.5 -127.7 L226.8 -119.7 L238.4 -111.2 L249.2 -102.5 L259.1 -93.5 L267.5 -84.3 L275.1 -75.1 L281.4 -65.7 L286.6 -56.3 L290.4 -46.9 L293.2 -37.5 L295.5 -28.2 L297.1 -18.8 L298.1 -9.4 L298.5 -0.0 L298.1 9.4 L297.1 18.8 L295.5 28.2 L293.2 37.5 L290.4 46.9 L286.6 56.3 L281.4 65.7 L275.1 75.1 L267.5 84.3 L259.1 93.5 L249.2 102.5 L238.4 111.2 L226.8 119.7 L214.5 127.7 L201.0 135.3 L185.5 142.2 L170.8 147.8 L158.9 151.4 L-158.9 151.4 L-170.8 147.8 L-185.5 142.2 L-201.0 135.3 L-214.5 127.7 L-226.8 119.7 L-238.4 111.2 L-249.2 102.5 L-259.1 93.5 L-267.5 84.3 L-275.1 75.1 L-281.4 65.7 L-286.6 56.3 L-290.4 46.9 L-293.2 37.5 L-295.5 28.2 L-297.1 18.8 L-298.1 9.4 L-298.5 0.0 L-298.1 -9.4 L-297.1 -18.8 L-295.5 -28.2 L-293.2 -37.5 L-290.4 -46.9 L-286.6 -56.3 L-281.4 -65.7 L-275.1 -75.1 L-267.5 -84.3 L-259.1 -93.5 L-249.2 -102.5 L-238.4 -111.2 L-226.8 -119.7 L-214.5 -127.7 L-201.0 -135.3 L-185.5 -142.2 L-170.8 -147.8 L-158.9 -151.4Z" fill="none" stroke="#111" stroke-width="1.1"/></g>
<g transform="translate(1573.4 195.4)"><g clip-path="url(#rob)"><g filter="url(#cm3)"><use href="#fieldC"/></g><rect x="-300" y="-152" width="600" height="304" fill="url(#polT)"/><use href="#grays"/></g><path d="M158.9 -151.4 L170.8 -147.8 L185.5 -142.2 L201.0 -135.3 L214.5 -127.7 L226.8 -119.7 L238.4 -111.2 L249.2 -102.5 L259.1 -93.5 L267.5 -84.3 L275.1 -75.1 L281.4 -65.7 L286.6 -56.3 L290.4 -46.9 L293.2 -37.5 L295.5 -28.2 L297.1 -18.8 L298.1 -9.4 L298.5 -0.0 L298.1 9.4 L297.1 18.8 L295.5 28.2 L293.2 37.5 L290.4 46.9 L286.6 56.3 L281.4 65.7 L275.1 75.1 L267.5 84.3 L259.1 93.5 L249.2 102.5 L238.4 111.2 L226.8 119.7 L214.5 127.7 L201.0 135.3 L185.5 142.2 L170.8 147.8 L158.9 151.4 L-158.9 151.4 L-170.8 147.8 L-185.5 142.2 L-201.0 135.3 L-214.5 127.7 L-226.8 119.7 L-238.4 111.2 L-249.2 102.5 L-259.1 93.5 L-267.5 84.3 L-275.1 75.1 L-281.4 65.7 L-286.6 56.3 L-290.4 46.9 L-293.2 37.5 L-295.5 28.2 L-297.1 18.8 L-298.1 9.4 L-298.5 0.0 L-298.1 -9.4 L-297.1 -18.8 L-295.5 -28.2 L-293.2 -37.5 L-290.4 -46.9 L-286.6 -56.3 L-281.4 -65.7 L-275.1 -75.1 L-267.5 -84.3 L-259.1 -93.5 L-249.2 -102.5 L-238.4 -111.2 L-226.8 -119.7 L-214.5 -127.7 L-201.0 -135.3 L-185.5 -142.2 L-170.8 -147.8 L-158.9 -151.4Z" fill="none" stroke="#111" stroke-width="1.1"/></g>
<g transform="translate(318.2 686.0)"><g clip-path="url(#rob)"><g filter="url(#cm4)"><use href="#fieldB"/></g></g><path d="M158.9 -151.4 L170.8 -147.8 L185.5 -142.2 L201.0 -135.3 L214.5 -127.7 L226.8 -119.7 L238.4 -111.2 L249.2 -102.5 L259.1 -93.5 L267.5 -84.3 L275.1 -75.1 L281.4 -65.7 L286.6 -56.3 L290.4 -46.9 L293.2 -37.5 L295.5 -28.2 L297.1 -18.8 L298.1 -9.4 L298.5 -0.0 L298.1 9.4 L297.1 18.8 L295.5 28.2 L293.2 37.5 L290.4 46.9 L286.6 56.3 L281.4 65.7 L275.1 75.1 L267.5 84.3 L259.1 93.5 L249.2 102.5 L238.4 111.2 L226.8 119.7 L214.5 127.7 L201.0 135.3 L185.5 142.2 L170.8 147.8 L158.9 151.4 L-158.9 151.4 L-170.8 147.8 L-185.5 142.2 L-201.0 135.3 L-214.5 127.7 L-226.8 119.7 L-238.4 111.2 L-249.2 102.5 L-259.1 93.5 L-267.5 84.3 L-275.1 75.1 L-281.4 65.7 L-286.6 56.3 L-290.4 46.9 L-293.2 37.5 L-295.5 28.2 L-297.1 18.8 L-298.1 9.4 L-298.5 0.0 L-298.1 -9.4 L-297.1 -18.8 L-295.5 -28.2 L-293.2 -37.5 L-290.4 -46.9 L-286.6 -56.3 L-281.4 -65.7 L-275.1 -75.1 L-267.5 -84.3 L-259.1 -93.5 L-249.2 -102.5 L-238.4 -111.2 L-226.8 -119.7 L-214.5 -127.7 L-201.0 -135.3 L-185.5 -142.2 L-170.8 -147.8 L-158.9 -151.4Z" fill="none" stroke="#111" stroke-width="1.1"/></g>
<g transform="translate(945.8 686.0)"><g clip-path="url(#rob)"><g filter="url(#cm5)"><use href="#fieldB"/></g></g><path d="M158.9 -151.4 L170.8 -147.8 L185.5 -142.2 L201.0 -135.3 L214.5 -127.7 L226.8 -119.7 L238.4 -111.2 L249.2 -102.5 L259.1 -93.5 L267.5 -84.3 L275.1 -75.1 L281.4 -65.7 L286.6 -56.3 L290.4 -46.9 L293.2 -37.5 L295.5 -28.2 L297.1 -18.8 L298.1 -9.4 L298.5 -0.0 L298.1 9.4 L297.1 18.8 L295.5 28.2 L293.2 37.5 L290.4 46.9 L286.6 56.3 L281.4 65.7 L275.1 75.1 L267.5 84.3 L259.1 93.5 L249.2 102.5 L238.4 111.2 L226.8 119.7 L214.5 127.7 L201.0 135.3 L185.5 142.2 L170.8 147.8 L158.9 151.4 L-158.9 151.4 L-170.8 147.8 L-185.5 142.2 L-201.0 135.3 L-214.5 127.7 L-226.8 119.7 L-238.4 111.2 L-249.2 102.5 L-259.1 93.5 L-267.5 84.3 L-275.1 75.1 L-281.4 65.7 L-286.6 56.3 L-290.4 46.9 L-293.2 37.5 L-295.5 28.2 L-297.1 18.8 L-298.1 9.4 L-298.5 0.0 L-298.1 -9.4 L-297.1 -18.8 L-295.5 -28.2 L-293.2 -37.5 L-290.4 -46.9 L-286.6 -56.3 L-281.4 -65.7 L-275.1 -75.1 L-267.5 -84.3 L-259.1 -93.5 L-249.2 -102.5 L-238.4 -111.2 L-226.8 -119.7 L-214.5 -127.7 L-201.0 -135.3 L-185.5 -142.2 L-170.8 -147.8 L-158.9 -151.4Z" fill="none" stroke="#111" stroke-width="1.1"/></g>
<text x="318.2" y="37.6" text-anchor="middle" font-weight="bold" font-size="24.40">Cloud top height - Daily mean</text>
<text x="945.8" y="37.6" text-anchor="middle" font-weight="bold" font-size="24.40">Cloud top pressure - Daily mean</text>
<text x="1573.4" y="37.6" text-anchor="middle" font-weight="bold" font-size="24.40">Cloud top temperature - Daily mean</text>
<text x="318.2" y="528.3" text-anchor="middle" font-weight="bold" font-size="24.40">Cloud optical thickness - Daily mean</text>
<text x="945.8" y="528.3" text-anchor="middle" font-weight="bold" font-size="24.40">Cloud water path - Daily mean</text>
<rect x="109.6" y="371.3" width="418.2" height="21.2" fill="url(#gIce)" stroke="#222" stroke-width="1.2"/><line x1="109.6" x2="109.6" y1="392.5" y2="397.8" stroke="#222" stroke-width="1.2"/><text x="109.6" y="417.2" text-anchor="middle" font-size="22.00">0</text><line x1="240.3" x2="240.3" y1="392.5" y2="397.8" stroke="#222" stroke-width="1.2"/><text x="240.3" y="417.2" text-anchor="middle" font-size="22.00">5000</text><line x1="371.0" x2="371.0" y1="392.5" y2="397.8" stroke="#222" stroke-width="1.2"/><text x="371.0" y="417.2" text-anchor="middle" font-size="22.00">10<tspan dx="3.6">000</tspan></text><line x1="501.7" x2="501.7" y1="392.5" y2="397.8" stroke="#222" stroke-width="1.2"/><text x="501.7" y="417.2" text-anchor="middle" font-size="22.00">15<tspan dx="3.6">000</tspan></text><text x="318.2" y="443.4" text-anchor="middle" font-size="22.00">Cloud top height (<tspan font-style="oblique" dx="0.5">m</tspan><tspan dx="2">)</tspan></text>
<rect x="737.2" y="371.3" width="418.2" height="21.2" fill="url(#gPres)" stroke="#222" stroke-width="1.2"/><line x1="782.7" x2="782.7" y1="392.5" y2="397.8" stroke="#222" stroke-width="1.2"/><text x="782.7" y="417.2" text-anchor="middle" font-size="22.00">200</text><line x1="873.6" x2="873.6" y1="392.5" y2="397.8" stroke="#222" stroke-width="1.2"/><text x="873.6" y="417.2" text-anchor="middle" font-size="22.00">400</text><line x1="964.5" x2="964.5" y1="392.5" y2="397.8" stroke="#222" stroke-width="1.2"/><text x="964.5" y="417.2" text-anchor="middle" font-size="22.00">600</text><line x1="1055.4" x2="1055.4" y1="392.5" y2="397.8" stroke="#222" stroke-width="1.2"/><text x="1055.4" y="417.2" text-anchor="middle" font-size="22.00">800</text><line x1="1146.3" x2="1146.3" y1="392.5" y2="397.8" stroke="#222" stroke-width="1.2"/><text x="1146.3" y="417.2" text-anchor="middle" font-size="22.00">1000</text><text x="945.8" y="443.4" text-anchor="middle" font-size="22.00">Cloud top pressure (<tspan font-style="oblique" dx="0.5">hPa</tspan><tspan dx="2">)</tspan></text>
<rect x="1364.8" y="371.3" width="418.2" height="21.2" fill="url(#gTemp)" stroke="#222" stroke-width="1.2"/><line x1="1364.8" x2="1364.8" y1="392.5" y2="397.8" stroke="#222" stroke-width="1.2"/><text x="1364.8" y="417.2" text-anchor="middle" font-size="22.00">200</text><line x1="1440.8" x2="1440.8" y1="392.5" y2="397.8" stroke="#222" stroke-width="1.2"/><text x="1440.8" y="417.2" text-anchor="middle" font-size="22.00">220</text><line x1="1516.9" x2="1516.9" y1="392.5" y2="397.8" stroke="#222" stroke-width="1.2"/><text x="1516.9" y="417.2" text-anchor="middle" font-size="22.00">240</text><line x1="1592.9" x2="1592.9" y1="392.5" y2="397.8" stroke="#222" stroke-width="1.2"/><text x="1592.9" y="417.2" text-anchor="middle" font-size="22.00">260</text><line x1="1668.9" x2="1668.9" y1="392.5" y2="397.8" stroke="#222" stroke-width="1.2"/><text x="1668.9" y="417.2" text-anchor="middle" font-size="22.00">280</text><line x1="1745.0" x2="1745.0" y1="392.5" y2="397.8" stroke="#222" stroke-width="1.2"/><text x="1745.0" y="417.2" text-anchor="middle" font-size="22.00">300</text><text x="1573.4" y="443.4" text-anchor="middle" font-size="22.00">Cloud top temperature (<tspan font-style="oblique" dx="0.5">K</tspan><tspan dx="2">)</tspan></text>
<rect x="109.6" y="862.0" width="418.2" height="21.2" fill="url(#gIce)" stroke="#222" stroke-width="1.2"/><line x1="109.6" x2="109.6" y1="883.2" y2="888.5" stroke="#222" stroke-width="1.2"/><text x="109.6" y="907.9" text-anchor="middle" font-size="22.00">0</text><line x1="193.2" x2="193.2" y1="883.2" y2="888.5" stroke="#222" stroke-width="1.2"/><text x="193.2" y="907.9" text-anchor="middle" font-size="22.00">10</text><line x1="276.9" x2="276.9" y1="883.2" y2="888.5" stroke="#222" stroke-width="1.2"/><text x="276.9" y="907.9" text-anchor="middle" font-size="22.00">20</text><line x1="360.5" x2="360.5" y1="883.2" y2="888.5" stroke="#222" stroke-width="1.2"/><text x="360.5" y="907.9" text-anchor="middle" font-size="22.00">30</text><line x1="444.2" x2="444.2" y1="883.2" y2="888.5" stroke="#222" stroke-width="1.2"/><text x="444.2" y="907.9" text-anchor="middle" font-size="22.00">40</text><line x1="527.8" x2="527.8" y1="883.2" y2="888.5" stroke="#222" stroke-width="1.2"/><text x="527.8" y="907.9" text-anchor="middle" font-size="22.00">50</text><text x="318.2" y="934.1" text-anchor="middle" font-size="22.00">Cloud optical thickness (<tspan font-style="oblique" dx="0.5">a</tspan>.<tspan dx="4"><tspan font-style="oblique" dx="0.5">u</tspan></tspan>.<tspan dx="4">)</tspan></text>
<rect x="737.2" y="862.0" width="418.2" height="21.2" fill="url(#gIce)" stroke="#222" stroke-width="1.2"/><line x1="737.2" x2="737.2" y1="883.2" y2="888.5" stroke="#222" stroke-width="1.2"/><text x="737.2" y="907.9" text-anchor="middle" font-size="22.00">0.0</text><line x1="820.8" x2="820.8" y1="883.2" y2="888.5" stroke="#222" stroke-width="1.2"/><text x="820.8" y="907.9" text-anchor="middle" font-size="22.00">0.1</text><line x1="904.5" x2="904.5" y1="883.2" y2="888.5" stroke="#222" stroke-width="1.2"/><text x="904.5" y="907.9" text-anchor="middle" font-size="22.00">0.2</text><line x1="988.1" x2="988.1" y1="883.2" y2="888.5" stroke="#222" stroke-width="1.2"/><text x="988.1" y="907.9" text-anchor="middle" font-size="22.00">0.3</text><line x1="1071.8" x2="1071.8" y1="883.2" y2="888.5" stroke="#222" stroke-width="1.2"/><text x="1071.8" y="907.9" text-anchor="middle" font-size="22.00">0.4</text><line x1="1155.4" x2="1155.4" y1="883.2" y2="888.5" stroke="#222" stroke-width="1.2"/><text x="1155.4" y="907.9" text-anchor="middle" font-size="22.00">0.5</text><text x="939.3" y="934.1" text-anchor="middle" font-size="22.00">Cloud water path (<tspan font-style="oblique" dx="1">kg</tspan><tspan font-style="oblique" dx="9">m</tspan><tspan font-size="15.4" dy="-8" dx="1.5">−2</tspan><tspan dy="8" dx="3">)</tspan></text>
</svg></body></html>
